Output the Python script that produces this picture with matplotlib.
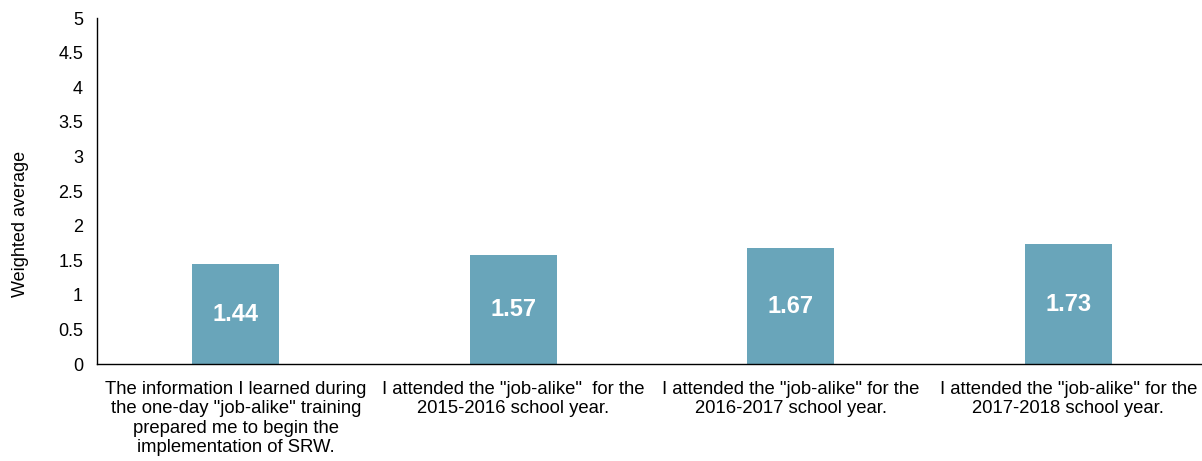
import matplotlib
matplotlib.use("Agg")
import matplotlib.pyplot as plt
import numpy as np

plt.rcParams["font.family"] = ["Liberation Sans", "DejaVu Sans"]

categories = [
    'The information I learned during\nthe one-day "job-alike" training\nprepared me to begin the\nimplementation of SRW.',
    'I attended the "job-alike"  for the\n2015-2016 school year.',
    'I attended the "job-alike" for the\n2016-2017 school year.',
    'I attended the "job-alike" for the\n2017-2018 school year.',
]
values = [1.44, 1.57, 1.67, 1.73]
yticks = [0, 0.5, 1, 1.5, 2, 2.5, 3, 3.5, 4, 4.5, 5]
ytick_labels = ["0", "0.5", "1", "1.5", "2", "2.5", "3", "3.5", "4", "4.5", "5"]

fig = plt.figure(figsize=(12.02, 4.61), dpi=100)
ax = fig.add_axes([0.0807, 0.2104, 0.9235, 0.7505])

x = np.arange(len(values))
bars = ax.bar(x, values, width=0.314, color="#69A5BA")
for b, v in zip(bars, values):
    ax.text(b.get_x() + b.get_width() / 2, v / 2, f"{v:.2f}",
            ha="center", va="center", color="white", fontsize=17, fontweight="bold")

ax.set_xlim(-0.5, len(values) - 0.5)
ax.set_ylim(0, 5)
ax.set_yticks(yticks)
ax.set_yticklabels(ytick_labels, fontsize=13)
ax.set_xticks(x)
ax.set_xticklabels(categories, fontsize=13.3, linespacing=1.2, va="top")
ax.tick_params(axis="y", length=0, pad=10)
ax.tick_params(axis="x", length=0, pad=12)
ax.set_ylabel("Weighted average", fontsize=13)
# label sits a bit below the axis midpoint
ax.yaxis.set_label_coords(-0.061, 0.405)

for s in ("top", "right"):
    ax.spines[s].set_visible(False)
for s in ("left", "bottom"):
    ax.spines[s].set_color("black")
    ax.spines[s].set_linewidth(1.0)

fig.savefig("out.png", dpi=100)
